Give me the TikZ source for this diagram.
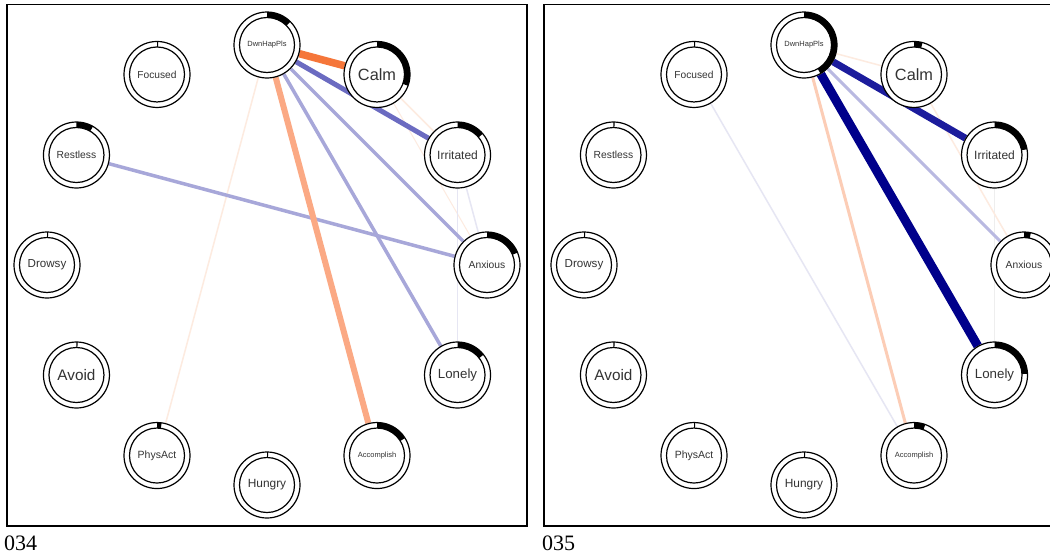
\documentclass[tikz,border=0pt]{standalone}
\usepackage{fontspec}
\setmainfont{Liberation Serif}
\setsansfont{Liberation Sans}
\usetikzlibrary{calc}
\pgfdeclarelayer{bg}
\pgfsetlayers{bg,main}
\definecolor{oStrong}{HTML}{F5763A}
\definecolor{oLight}{HTML}{FBA984}
\definecolor{oPale}{HTML}{FCCDB6}
\definecolor{oFaint}{HTML}{FDEBE0}
\definecolor{bMid}{HTML}{6B6BC1}
\definecolor{bLight}{HTML}{A7A7D9}
\definecolor{bPale}{HTML}{B9B9E1}
\definecolor{bFaint}{HTML}{E6E6F3}
\definecolor{gFaint}{HTML}{EEEEEE}
\definecolor{navyA}{HTML}{00008B}
\definecolor{navyB}{HTML}{1C1C9C}
\tikzset{
  emo/.style={circle, draw=black, line width=1.2pt, fill=white, minimum size=66pt,
    inner sep=0pt, text=black!80},
  frame/.style={draw=black, line width=1.6pt},
  edge/.style={line cap=butt},
  paneltag/.style={anchor=base west, inner sep=0pt, font=\fontsize{22}{22}\selectfont},
}
\newcommand\ringnode[5]{%
  \node[emo, font=\sffamily\fontsize{#3}{#3}\selectfont] (#1) at (#2) {#4};
  \draw[line width=1.2pt] (#1.center) circle[radius=27.5];
  \fill ($(#1.center)+(90:27.5)$) arc[start angle=90, end angle={90-#5}, radius=27.5]
    -- ($(#1.center)+({90-#5}:33)$) arc[start angle={90-#5}, end angle=90, radius=33] -- cycle;
}
\begin{document}
\begin{tikzpicture}[x=1pt,y=1pt]
\useasboundingbox (0,0) rectangle (1050,-557);
\clip (0,0) rectangle (1050,-557);
\draw[frame] (7,-4.5) rectangle (527,-526);
\draw[frame] (544,-4.5) rectangle (1075,-526);
\node[paneltag] (tagL) at (4,-550) {034};
\node[paneltag] (tagR) at (542,-550) {035};
\coordinate (cL) at (267,-265);
\coordinate (cR) at (804,-265);
% left panel
\ringnode{LDwn}{$(cL)+(90:220)$}{7.5}{DwnHapPls}{45}
\ringnode{LCalm}{$(cL)+(60:220)$}{16.3}{Calm}{110}
\ringnode{LIrr}{$(cL)+(30:220)$}{12}{Irritated}{50}
\ringnode{LAnx}{$(cL)+(0:220)$}{10.3}{Anxious}{68}
\ringnode{LLon}{$(cL)+(-30:220)$}{13.3}{Lonely}{52}
\ringnode{LAcc}{$(cL)+(-60:220)$}{7.5}{Accomplish}{58}
\ringnode{LHun}{$(cL)+(-90:220)$}{11.9}{Hungry}{2}
\ringnode{LPhy}{$(cL)+(-120:220)$}{10.5}{PhysAct}{8}
\ringnode{LAvo}{$(cL)+(-150:220)$}{15.3}{Avoid}{2}
\ringnode{LDro}{$(cL)+(180:220)$}{11.6}{Drowsy}{2}
\ringnode{LRes}{$(cL)+(150:220)$}{10.3}{Restless}{30}
\ringnode{LFoc}{$(cL)+(120:220)$}{10.2}{Focused}{2}
% right panel
\ringnode{RDwn}{$(cR)+(90:220)$}{7.5}{DwnHapPls}{150}
\ringnode{RCalm}{$(cR)+(60:220)$}{16.3}{Calm}{15}
\ringnode{RIrr}{$(cR)+(30:220)$}{12}{Irritated}{80}
\ringnode{RAnx}{$(cR)+(0:220)$}{10.3}{Anxious}{12}
\ringnode{RLon}{$(cR)+(-30:220)$}{13.3}{Lonely}{88}
\ringnode{RAcc}{$(cR)+(-60:220)$}{7.5}{Accomplish}{20}
\ringnode{RHun}{$(cR)+(-90:220)$}{11.9}{Hungry}{2}
\ringnode{RPhy}{$(cR)+(-120:220)$}{10.5}{PhysAct}{2}
\ringnode{RAvo}{$(cR)+(-150:220)$}{15.3}{Avoid}{2}
\ringnode{RDro}{$(cR)+(180:220)$}{11.6}{Drowsy}{2}
\ringnode{RRes}{$(cR)+(150:220)$}{10.3}{Restless}{2}
\ringnode{RFoc}{$(cR)+(120:220)$}{10.2}{Focused}{2}
\begin{pgfonlayer}{bg}
\fill[white] (0,0) rectangle (1050,-557);
% left edges
\draw[edge, oFaint, line width=1.5pt] (LDwn) -- (LPhy);
\draw[edge, oFaint, line width=1.5pt] (LCalm) -- (LIrr);
\draw[edge, oFaint, line width=1pt] (LCalm) -- (LAnx);
\draw[edge, bFaint, line width=1.5pt] (LIrr) -- (LAnx);
\draw[edge, bFaint, line width=1.5pt] (LIrr) -- (LLon);
\draw[edge, bLight, line width=3.5pt] (LRes) -- (LAnx);
\draw[edge, bLight, line width=3.5pt] (LDwn) -- (LAnx);
\draw[edge, bLight, line width=3.5pt] (LDwn) -- (LLon);
\draw[edge, bMid, line width=5pt] (LDwn) -- (LIrr);
\draw[edge, oLight, line width=6pt] (LDwn) -- (LAcc);
\draw[edge, oStrong, line width=7.5pt] (LDwn) -- (LCalm);
% right edges
\draw[edge, gFaint, line width=1pt] (RIrr) -- (RLon);
\draw[edge, bFaint, line width=1.5pt] (RFoc) -- (RAcc);
\draw[edge, oFaint, line width=1.5pt] (RDwn) -- (RCalm);
\draw[edge, oFaint, line width=1.5pt] (RCalm) -- (RAnx);
\draw[edge, oPale, line width=3pt] (RDwn) -- (RAcc);
\draw[edge, bPale, line width=3pt] (RDwn) -- (RAnx);
\draw[edge, navyB, line width=7pt] (RDwn) -- (RIrr);
\draw[edge, navyA, line width=9pt] (RDwn) -- (RLon);
\end{pgfonlayer}
\end{tikzpicture}
\end{document}
